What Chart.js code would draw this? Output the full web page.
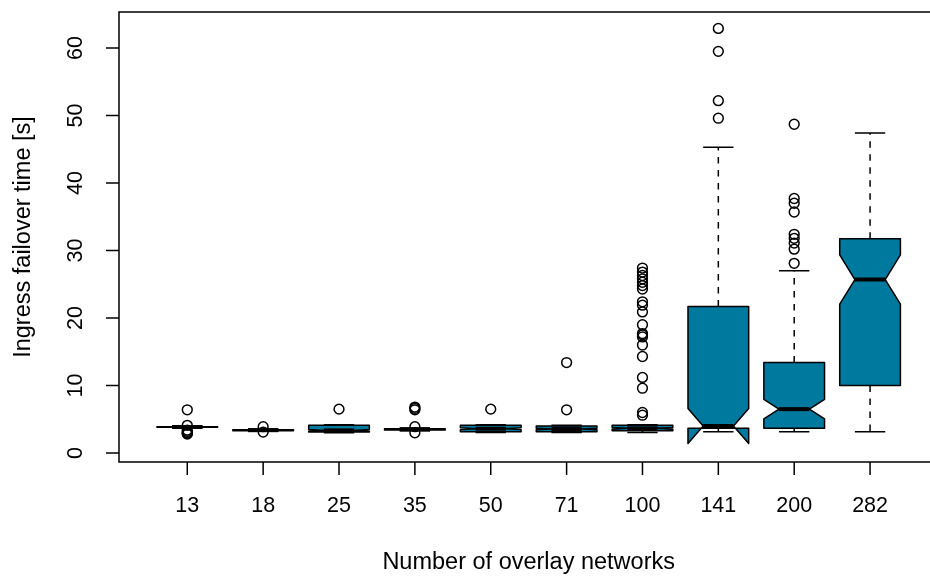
<!DOCTYPE html>
<html>
<head>
<meta charset="utf-8">
<script src="https://cdn.jsdelivr.net/npm/chart.js@4.4.1/dist/chart.umd.min.js"></script>
<style>
  html, body { margin: 0; padding: 0; background: #ffffff; }
  canvas { display: block; }
</style>
</head>
<body>
<canvas id="chart" width="930" height="579"></canvas>
<script>
// Ingress failover time per number of overlay networks (notched boxplots)
const categories  = ['13', '18', '25', '35', '50', '71', '100', '141', '200', '282'];
const whiskerLow  = [3.70, 3.25, 3.00, 3.30, 3.05, 3.05, 3.05, 3.15, 3.15, 3.15];
const q1          = [3.80, 3.30, 3.10, 3.42, 3.15, 3.15, 3.30, 3.65, 3.65, 10.0];
const medians     = [3.85, 3.38, 3.35, 3.50, 3.60, 3.55, 3.65, 4.00, 6.50, 25.7];
const q3          = [3.90, 3.45, 4.10, 3.60, 4.10, 4.00, 4.10, 21.7, 13.4, 31.75];
const whiskerHigh = [4.00, 3.55, 4.20, 3.70, 4.20, 4.10, 4.20, 45.3, 27.0, 47.4];
const sampleSizes = [120, 120, 120, 120, 120, 120, 120, 120, 113, 89];
const outliers = [
  [6.4, 4.1, 3.4, 3.2, 3.0, 2.9, 2.8],
  [3.9, 3.1],
  [6.5],
  [6.8, 6.6, 6.4, 3.9, 3.0],
  [6.5],
  [13.4, 6.4],
  [27.4, 26.8, 26.3, 25.8, 25.3, 24.8, 24.3, 22.4, 21.9, 20.9, 19.0, 17.7, 17.5, 17.2, 16.0, 14.3, 11.2, 9.6, 6.0, 5.6],
  [62.9, 59.5, 52.2, 49.6],
  [48.7, 37.7, 37.0, 35.7, 32.4, 31.8, 31.1, 30.2, 28.1],
  []
];
const yTicks = [0, 10, 20, 30, 40, 50, 60];
const xTitle = 'Number of overlay networks';
const yTitle = 'Ingress failover time [s]';

const FILL = '#00799f';
const LINE_W = 1.5;
const FONT_TICK = '21.5px "Liberation Sans", Arial, sans-serif';
const FONT_TITLE = '23.5px "Liberation Sans", Arial, sans-serif';

const outlierPoints = [];
outliers.forEach((vals, i) => vals.forEach(v => outlierPoints.push({ x: i + 1, y: v })));

// Notched boxes, whiskers and staples, drawn under the outlier points
const notchedBoxes = {
  id: 'notchedBoxes',
  beforeDatasetsDraw(chart) {
    const { ctx, scales: { x, y } } = chart;
    ctx.save();
    ctx.lineWidth = LINE_W;
    ctx.strokeStyle = '#000';
    categories.forEach((c, i) => {
      const pos = i + 1;
      const xc = x.getPixelForValue(pos);
      const hw = x.getPixelForValue(pos + 0.4) - xc;
      const notch = 1.58 * (q3[i] - q1[i]) / Math.sqrt(sampleSizes[i]);
      const yq1 = y.getPixelForValue(q1[i]);
      const yq3 = y.getPixelForValue(q3[i]);
      const ym = y.getPixelForValue(medians[i]);
      const ynl = y.getPixelForValue(medians[i] - notch);
      const ynh = y.getPixelForValue(medians[i] + notch);
      const ywl = y.getPixelForValue(whiskerLow[i]);
      const ywh = y.getPixelForValue(whiskerHigh[i]);

      // whiskers (dashed)
      ctx.setLineDash([6.5, 6.5]);
      ctx.beginPath();
      ctx.moveTo(xc, yq3); ctx.lineTo(xc, ywh);
      ctx.moveTo(xc, yq1); ctx.lineTo(xc, ywl);
      ctx.stroke();
      ctx.setLineDash([]);
      // staples
      ctx.beginPath();
      ctx.moveTo(xc - hw / 2, ywh); ctx.lineTo(xc + hw / 2, ywh);
      ctx.moveTo(xc - hw / 2, ywl); ctx.lineTo(xc + hw / 2, ywl);
      ctx.stroke();

      // notched box
      ctx.beginPath();
      ctx.moveTo(xc - hw, yq1);
      ctx.lineTo(xc + hw, yq1);
      ctx.lineTo(xc + hw, ynl);
      ctx.lineTo(xc + hw / 2, ym);
      ctx.lineTo(xc + hw, ynh);
      ctx.lineTo(xc + hw, yq3);
      ctx.lineTo(xc - hw, yq3);
      ctx.lineTo(xc - hw, ynh);
      ctx.lineTo(xc - hw / 2, ym);
      ctx.lineTo(xc - hw, ynl);
      ctx.closePath();
      ctx.fillStyle = FILL;
      ctx.fill();
      ctx.lineJoin = 'round';
      ctx.stroke();

      // median
      ctx.save();
      ctx.lineWidth = 4;
      ctx.lineCap = 'butt';
      ctx.beginPath();
      ctx.moveTo(xc - hw / 2, ym);
      ctx.lineTo(xc + hw / 2, ym);
      ctx.stroke();
      ctx.restore();
    });
    ctx.restore();
  },
  afterDraw(chart) {
    const { ctx, scales: { x, y } } = chart;
    const left = x.left, top = y.top, bottom = y.bottom;
    const right = x.getPixelForValue(10.9);
    ctx.save();
    ctx.strokeStyle = '#000';
    ctx.fillStyle = '#000';
    ctx.lineWidth = LINE_W;
    ctx.strokeRect(left, top, right - left, bottom - top);

    // x axis ticks and labels
    ctx.font = FONT_TICK;
    ctx.textAlign = 'center';
    ctx.textBaseline = 'alphabetic';
    categories.forEach((c, i) => {
      const px = x.getPixelForValue(i + 1);
      ctx.beginPath();
      ctx.moveTo(px, bottom); ctx.lineTo(px, bottom + 13);
      ctx.stroke();
      ctx.fillText(c, px, 511.5);
    });

    // y axis ticks and rotated labels
    yTicks.forEach(v => {
      const py = y.getPixelForValue(v);
      ctx.beginPath();
      ctx.moveTo(left, py); ctx.lineTo(left - 13, py);
      ctx.stroke();
      ctx.save();
      ctx.translate(81.5, py);
      ctx.rotate(-Math.PI / 2);
      ctx.fillText(String(v), 0, 0);
      ctx.restore();
    });

    // axis titles
    ctx.font = FONT_TITLE;
    ctx.fillText(xTitle, (left + right) / 2, 569);
    ctx.save();
    ctx.translate(30, (top + bottom) / 2);
    ctx.rotate(-Math.PI / 2);
    ctx.fillText(yTitle, 0, 0);
    ctx.restore();
    ctx.restore();
  }
};

new Chart(document.getElementById('chart'), {
  type: 'scatter',
  data: {
    datasets: [{
      label: 'outliers',
      data: outlierPoints,
      pointStyle: 'circle',
      pointRadius: 4.9,
      pointHoverRadius: 4.9,
      pointBorderWidth: 1.5,
      pointBorderColor: '#000',
      pointBackgroundColor: 'rgba(0,0,0,0)'
    }]
  },
  options: {
    responsive: false,
    devicePixelRatio: 1,
    animation: false,
    events: [],
    layout: { autoPadding: false, padding: { left: 119, top: 12, right: 0, bottom: 117 } },
    plugins: { legend: { display: false }, tooltip: { enabled: false } },
    scales: {
      x: { type: 'linear', display: false, min: 0.1, max: 10.79 },
      y: { type: 'linear', display: false, min: -1.3333, max: 65.3333 }
    }
  },
  plugins: [notchedBoxes]
});
</script>
</body>
</html>
